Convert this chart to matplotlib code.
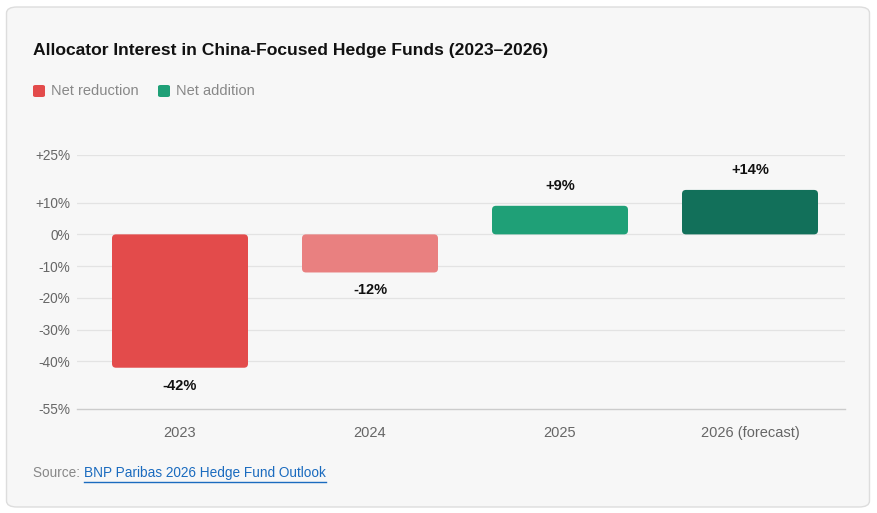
import matplotlib.pyplot as plt
from matplotlib.patches import FancyBboxPatch

plt.rcParams['font.family'] = ['Liberation Sans', 'DejaVu Sans']

years = ['2023', '2024', '2025', '2026 (forecast)']
values = [-42, -12, 9, 14]
labels = ['-42%', '-12%', '+9%', '+14%']
bar_colors = ['#e34b4b', '#e98080', '#1fa077', '#12705a']
yticks = [25, 10, 0, -10, -20, -30, -40, -55]
ytick_labels = ['+25%', '+10%', '0%', '-10%', '-20%', '-30%', '-40%', '-55%']
legend_items = [('Net reduction', '#e34b4b'), ('Net addition', '#1fa077')]

W, H = 877, 513
fig = plt.figure(figsize=(W / 100, H / 100), dpi=100)
fig.patch.set_facecolor('white')

# card background
card = FancyBboxPatch((6.5 / W, 6 / H), 863 / W, 500 / H,
                      boxstyle='round,pad=0,rounding_size=0.012',
                      transform=fig.transFigure, facecolor='#f7f7f7',
                      edgecolor='#dddddd', linewidth=1, zorder=-5)
fig.patches.append(card)

# title and legend
fig.text(33 / W, 1 - 50 / H, 'Allocator Interest in China-Focused Hedge Funds (2023\u20132026)',
         fontsize=12.6, fontweight='bold', color='#111111', va='center', ha='left')
lx = 33
for name, col in legend_items:
    sq = FancyBboxPatch((lx / W, 1 - 97 / H), 12 / W, 12 / H,
                        boxstyle='round,pad=0,rounding_size=0.003',
                        transform=fig.transFigure, facecolor=col, edgecolor='none')
    fig.patches.append(sq)
    fig.text((lx + 18) / W, 1 - 91 / H, name, fontsize=10.5, color='#888888',
             va='center', ha='left')
    lx += 125

# plot area
ax_l, ax_r, ax_t, ax_b = 77, 845, 155, 409
ax = fig.add_axes([ax_l / W, 1 - ax_b / H, (ax_r - ax_l) / W, (ax_b - ax_t) / H])
ax.set_facecolor('none')
x = list(range(len(years)))
ax.set_xlim(-0.5 - 8 / 190, 3.5)
ax.set_ylim(-55, 25)

for s in ['top', 'right', 'left']:
    ax.spines[s].set_visible(False)
ax.spines['bottom'].set_color('#cccccc')
ax.spines['bottom'].set_linewidth(1)

ax.set_yticks(yticks)
ax.set_yticklabels(ytick_labels)
ax.tick_params(axis='y', length=0, pad=5, labelsize=9.8, labelcolor='#666666')
ax.set_xticks(x)
ax.set_xticklabels(years)
ax.tick_params(axis='x', length=0, pad=12, labelsize=10.5, labelcolor='#666666')
for yv in yticks[:-1]:
    ax.axhline(yv, color='#e3e3e3', linewidth=0.9, zorder=0)

# rounded bars
width = 136 / 190
fig.canvas.draw()
bb = ax.get_window_extent()
px_x = bb.width / (ax.get_xlim()[1] - ax.get_xlim()[0])
px_y = bb.height / (ax.get_ylim()[1] - ax.get_ylim()[0])
r_px = 4
for xi, v, c, lab in zip(x, values, bar_colors, labels):
    y0 = min(0, v)
    h = abs(v)
    p = FancyBboxPatch((xi - width / 2, y0), width, h,
                       boxstyle='round,pad=0,rounding_size=%f' % (r_px / px_x),
                       mutation_aspect=px_x / px_y,
                       facecolor=c, edgecolor='none', zorder=3)
    ax.add_patch(p)
    if v < 0:
        ax.text(xi, v - 18 / px_y, lab, ha='center', va='center', fontsize=10.5,
                fontweight='bold', color='#111111')
    else:
        ax.text(xi, v + 20 / px_y, lab, ha='center', va='center', fontsize=10.5,
                fontweight='bold', color='#111111')

# source line
t1 = fig.text(33 / W, 1 - 473 / H, 'Source: ', fontsize=9.8, color='#888888',
              va='center', ha='left')
fig.canvas.draw()
ext = t1.get_window_extent()
t2 = fig.text(ext.x1 / W, 1 - 473 / H, 'BNP Paribas 2026 Hedge Fund Outlook',
              fontsize=9.8, color='#1a6bbf', va='center', ha='left')
fig.canvas.draw()
e2 = t2.get_window_extent()
fig.add_artist(plt.Line2D([e2.x0 / W, e2.x1 / W], [(H - 482) / H, (H - 482) / H],
                          transform=fig.transFigure, color='#1a6bbf', linewidth=1))

fig.savefig('out.png', dpi=100, facecolor='white')
